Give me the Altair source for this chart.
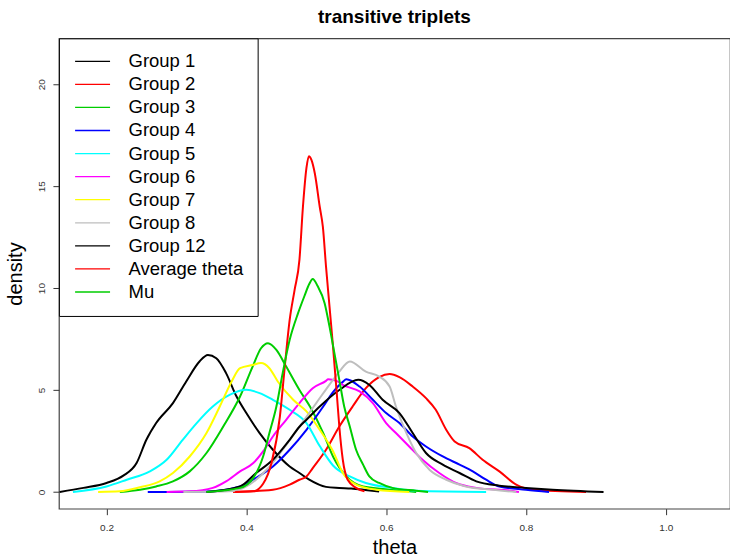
import altair as alt
import pandas as pd

# Series names and their line colours (base-R palette)
series_names = ["Group 1", "Group 2", "Group 3", "Group 4", "Group 5", "Group 6",
                "Group 7", "Group 8", "Group 12", "Average theta", "Mu"]
series_colors = ["#000000", "#FF0000", "#00CD00", "#0000FF", "#00FFFF", "#FF00FF",
                 "#FFFF00", "#BEBEBE", "#000000", "#FF0000", "#00CD00"]

# Kernel density estimates of theta, one (theta, density) list pair per series
g1_theta = [0.133, 0.167, 0.200, 0.224, 0.243, 0.257, 0.271, 0.295, 0.314, 0.333, 0.345,
            0.357, 0.371, 0.386, 0.400, 0.419, 0.438, 0.462, 0.476, 0.490, 0.514, 0.533,
            0.550, 0.570, 0.590]
g1_dens = [0.0, 0.2, 0.44, 0.8, 1.42, 2.56, 3.38, 4.36, 5.42, 6.4, 6.72,
           6.56, 5.83, 4.68, 3.87, 2.89, 2.07, 1.25, 0.93, 0.6, 0.25, 0.2,
           0.17, 0.1, 0.02]

g2_theta = [0.381, 0.438, 0.462, 0.476, 0.486, 0.495, 0.514, 0.533, 0.552, 0.571, 0.590,
            0.605, 0.619, 0.638, 0.657, 0.671, 0.686, 0.698, 0.719, 0.738, 0.762, 0.786,
            0.810, 0.886]
g2_dens = [0.0, 0.11, 0.36, 0.6, 0.76, 1.17, 2.07, 3.21, 4.19, 5.09, 5.63,
           5.78, 5.63, 5.17, 4.6, 4.03, 3.05, 2.48, 2.15, 1.58, 1.01, 0.36,
           0.11, 0.0]

g3_theta = [0.219, 0.248, 0.271, 0.295, 0.319, 0.343, 0.367, 0.391, 0.409, 0.421, 0.431,
            0.443, 0.457, 0.476, 0.491, 0.510, 0.524, 0.543, 0.567, 0.619, 0.643]
g3_dens = [0.0, 0.11, 0.27, 0.52, 1.01, 1.91, 3.21, 4.68, 6.15, 7.05, 7.3,
           6.97, 6.15, 5.0, 4.19, 2.89, 1.74, 0.76, 0.27, 0.08, 0.0]

g4_theta = [0.259, 0.286, 0.343, 0.391, 0.414, 0.438, 0.462, 0.486, 0.510, 0.524, 0.538,
            0.543, 0.562, 0.581, 0.600, 0.619, 0.638, 0.657, 0.681, 0.705, 0.724, 0.743,
            0.762, 0.800, 0.833]
g4_dens = [0.0, 0.0, 0.02, 0.27, 0.69, 1.25, 2.07, 3.05, 4.19, 4.9, 5.4,
           5.53, 5.17, 4.52, 3.87, 3.38, 2.72, 2.23, 1.74, 1.34, 1.01, 0.6,
           0.27, 0.11, 0.0]

g5_theta = [0.152, 0.200, 0.229, 0.262, 0.286, 0.309, 0.329, 0.352, 0.376, 0.400, 0.419,
            0.438, 0.462, 0.486, 0.505, 0.524, 0.548, 0.571, 0.609, 0.643, 0.743]
g5_dens = [0.0, 0.27, 0.6, 1.01, 1.58, 2.56, 3.38, 4.19, 4.76, 5.01, 4.85,
           4.52, 4.03, 3.38, 2.25, 1.3, 0.76, 0.44, 0.2, 0.06, 0.0]

g6_theta = [0.286, 0.319, 0.352, 0.371, 0.391, 0.410, 0.424, 0.438, 0.457, 0.476, 0.495,
            0.514, 0.517, 0.529, 0.538, 0.562, 0.581, 0.600, 0.614, 0.633, 0.652, 0.676,
            0.700, 0.729, 0.781, 0.790]
g6_dens = [0.0, 0.03, 0.2, 0.52, 1.01, 1.42, 1.99, 2.72, 3.54, 4.36, 5.09,
           5.45, 5.53, 5.45, 5.25, 4.93, 4.36, 3.38, 2.89, 2.23, 1.58, 0.93,
           0.44, 0.2, 0.05, 0.0]

g7_theta = [0.188, 0.219, 0.248, 0.276, 0.295, 0.319, 0.343, 0.362, 0.379, 0.391, 0.409,
            0.421, 0.433, 0.445, 0.467, 0.486, 0.505, 0.524, 0.538, 0.557, 0.586, 0.633]
g7_dens = [0.0, 0.03, 0.23, 0.52, 0.93, 1.74, 2.89, 4.19, 5.42, 6.07, 6.23,
           6.32, 6.07, 5.42, 4.52, 3.95, 3.05, 2.0, 0.93, 0.36, 0.11, 0.0]

g8_theta = [0.310, 0.343, 0.381, 0.400, 0.429, 0.452, 0.476, 0.500, 0.524, 0.533, 0.548,
            0.571, 0.590, 0.605, 0.614, 0.629, 0.643, 0.662, 0.686, 0.714, 0.752, 0.786]
g8_dens = [0.0, 0.01, 0.05, 0.27, 1.09, 2.07, 3.21, 4.36, 5.5, 5.9, 6.4,
           5.9, 5.66, 5.17, 4.19, 2.89, 1.91, 1.09, 0.6, 0.27, 0.11, 0.0]

g12_theta = [0.343, 0.391, 0.414, 0.438, 0.462, 0.476, 0.486, 0.505, 0.533, 0.560, 0.576,
             0.595, 0.619, 0.638, 0.657, 0.681, 0.705, 0.729, 0.762, 0.800, 0.838, 0.911]
g12_dens = [0.0, 0.27, 0.93, 1.58, 2.56, 3.2, 3.54, 4.19, 5.0, 5.5, 5.25,
            4.52, 3.87, 2.89, 1.91, 1.34, 0.93, 0.52, 0.31, 0.2, 0.11, 0.0]

avg_theta = [0.384, 0.410, 0.424, 0.436, 0.448, 0.455, 0.462, 0.469, 0.476, 0.481, 0.486,
             0.4895, 0.493, 0.498, 0.505, 0.5095, 0.514, 0.519, 0.524, 0.529, 0.533, 0.538,
             0.545, 0.557, 0.569]
avg_dens = [0.0, 0.03, 0.4, 1.42, 3.7, 6.15, 8.44, 9.9, 11.4, 14.0, 15.9,
            16.47, 16.3, 15.62, 13.99, 13.0, 11.05, 9.09, 7.13, 5.01, 3.21, 1.58,
            0.6, 0.2, 0.03]

mu_theta = [0.343, 0.391, 0.410, 0.424, 0.433, 0.443, 0.452, 0.462, 0.474, 0.483, 0.490,
            0.495, 0.502, 0.512, 0.519, 0.526, 0.533, 0.540, 0.548, 0.557, 0.567, 0.576,
            0.590, 0.609, 0.643, 0.660]
mu_dens = [0.0, 0.2, 0.69, 1.74, 2.89, 4.19, 5.83, 7.46, 8.77, 9.6, 10.2,
           10.45, 10.1, 9.26, 8.11, 6.81, 5.5, 4.19, 3.21, 2.07, 1.34, 0.76,
           0.44, 0.2, 0.06, 0.0]

curves = [
    (g1_theta, g1_dens), (g2_theta, g2_dens), (g3_theta, g3_dens), (g4_theta, g4_dens),
    (g5_theta, g5_dens), (g6_theta, g6_dens), (g7_theta, g7_dens), (g8_theta, g8_dens),
    (g12_theta, g12_dens), (avg_theta, avg_dens), (mu_theta, mu_dens),
]

rows = []
for k, (name, (th, de)) in enumerate(zip(series_names, curves)):
    for t, d in zip(th, de):
        rows.append({"series": name, "layer": k, "theta": t, "density": d})
df = pd.DataFrame(rows)

FONT = "Liberation Sans"

legend = alt.Legend(
    orient="none", legendX=0, legendY=0, title=None,
    symbolType="M-2.5,0L2.5,0", symbolSize=196, symbolStrokeWidth=1.3,
    symbolOffset=10.7, labelOffset=26.75, padding=13.75, rowPadding=4.1,
    labelFontSize=18.5, labelFont=FONT, labelColor="black", labelLimit=300,
    strokeColor="black", fillColor="white", cornerRadius=0,
)

chart = alt.Chart(df).mark_line(strokeWidth=2, clip=True, interpolate="monotone").encode(
    x=alt.X("theta:Q",
            scale=alt.Scale(domain=[0.1319, 1.0919], nice=False, zero=False),
            axis=alt.Axis(values=[0.2, 0.4, 0.6, 0.8, 1.0], format=".1f", grid=False,
                          domain=False, tickSize=6, tickColor="#333", labelPadding=12.5,
                          labelBaseline="middle", labelFontSize=10, labelColor="#333",
                          labelFont=FONT, title="theta", titleFont=FONT, titleFontSize=20,
                          titleFontWeight="normal", titleColor="black",
                          titleBaseline="alphabetic", titleY=44.5)),
    y=alt.Y("density:Q",
            scale=alt.Scale(domain=[-0.82, 22.25], nice=False, zero=False),
            axis=alt.Axis(values=[0, 5, 10, 15, 20], grid=False, domain=False, tickSize=6,
                          tickColor="#333", labelAngle=270, labelAlign="center",
                          labelBaseline="middle", labelPadding=11.5, labelFontSize=10,
                          labelColor="#333", labelFont=FONT, title="density",
                          titleFont=FONT, titleFontSize=20, titleFontWeight="normal",
                          titleColor="black", titleAngle=270, titleBaseline="alphabetic",
                          titleX=-37)),
    color=alt.Color("series:N", sort=series_names,
                    scale=alt.Scale(domain=series_names, range=series_colors),
                    legend=legend),
    detail="layer:N",
).properties(
    width=672, height=471,
    autosize="none",
    padding={"left": 59, "top": 38, "right": 0, "bottom": 48},
    title=alt.TitleParams("transitive triplets", font=FONT, fontSize=19,
                          fontWeight="bold", anchor="middle", color="black",
                          baseline="alphabetic", offset=16, dy=19.7),
).configure(font=FONT, background="white").configure_view(stroke="#444", strokeWidth=1.2)

chart.save("out.html", embed_options={"renderer": "svg", "actions": False})
